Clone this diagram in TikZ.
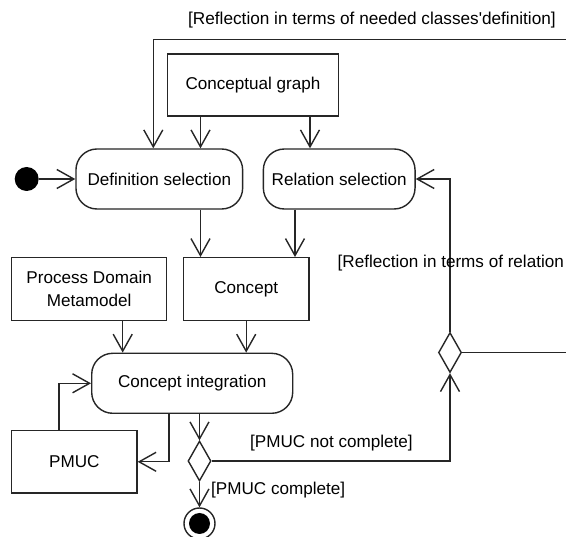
\documentclass[tikz,border=0pt]{standalone}
\usepackage{fontspec}
\setmainfont{Liberation Sans}
\newfontfamily\plainarial{Liberation Sans}
\usetikzlibrary{arrows.meta,shapes.geometric}
\begin{document}
\begin{tikzpicture}[x=1pt,y=-1pt,
  every node/.style={font=\fontsize{17.1}{23}\selectfont, inner sep=0pt},
  line/.style={line width=1.4pt, draw=black!85},
  arr/.style={line, -{Straight Barb[length=17pt,width=19pt,line width=1.4pt]}},
  objbox/.style={draw=black!85, line width=1.4pt, rectangle},
  actbox/.style={draw=black!85, line width=1.4pt, rectangle, rounded corners=21pt},
  dec/.style={draw=black!85, line width=1.4pt, diamond, minimum width=23pt, minimum height=40pt},
  initn/.style={circle, fill=black, minimum size=24pt},
  finaln/.style={circle, draw=black!85, line width=1.4pt, minimum size=31pt,
    path picture={\fill[black] (path picture bounding box.center) circle (10.5pt);}}]
\fill[white] (0,0) rectangle (566,537);
\useasboundingbox (0,0) rectangle (566,537);

\node[objbox, minimum width=170.6pt, minimum height=62pt] (cg) at (253,85) {Conceptual graph};
\node[actbox, minimum width=166.7pt, minimum height=60pt] (def) at (159.3,179) {Definition selection};
\node[actbox, minimum width=151.7pt, minimum height=60pt] (rel) at (339.2,179) {Relation selection};
\node[objbox, minimum width=155pt, minimum height=63pt, align=center] (pdm) at (89.2,289.2) {Process Domain\\Metamodel};
\node[objbox, minimum width=125.7pt, minimum height=63pt] (con) at (246.2,289.2) {Concept};
\node[actbox, minimum width=201pt, minimum height=60pt] (ci) at (192.2,383.3) {Concept integration};
\node[objbox, minimum width=125.4pt, minimum height=62.3pt] (pmuc) at (74.3,461.8) {PMUC};
\node[dec] (d1) at (199.5,461) {};
\node[dec] (d2) at (450,352.5) {};
\node[initn] (init) at (26.7,179) {};
\node[finaln] (fin) at (199.5,523.5) {};

\coordinate (topR) at (566,39.3);
\coordinate (rightR) at (566,352.5);
\coordinate (xa) at (153.3,0);
\coordinate (xb) at (200.5,0);
\coordinate (xc) at (310,0);
\coordinate (xd) at (295,0);
\coordinate (xe) at (122.7,0);
\coordinate (xg) at (169,0);
\coordinate (xh) at (59,0);

\draw[arr] (topR) -| (xa |- def.north);
\draw[arr] (xb |- cg.south) -- (xb |- def.north);
\draw[arr] (xc |- cg.south) -- (xc |- rel.north);
\draw[arr] (init.east) -- (def.west);
\draw[arr] (xb |- def.south) -- (xb |- con.north);
\draw[arr] (xd |- rel.south) -- (xd |- con.north);
\draw[arr] (xe |- pdm.south) -- (xe |- ci.north);
\draw[arr] (con.south) -- (con.south |- ci.north);
\draw[arr] (xg |- ci.south) |- (pmuc.east);
\draw[arr] (xh |- pmuc.north) |- (ci.west);
\draw[arr] (ci.south -| d1) -- (d1.north);
\draw[arr] (d1.south) -- (fin.north);
\draw[arr] (d1.east) -| (d2.south);
\draw[arr] (d2.north) |- (rel.east);
\draw[line] (d2.east) -- (rightR);

\node[anchor=west, font=\plainarial\fontsize{17.2}{23}\selectfont] (lbl1) at (188,20) {[Reflection in terms of needed classes'definition]};
\node[anchor=west] (lbl2) at (337.5,263) {[Reflection in terms of relation};
\node[anchor=west] (lbl3) at (250,443) {[PMUC not complete]};
\node[anchor=west] (lbl4) at (211,490) {[PMUC complete]};
\end{tikzpicture}
\end{document}
